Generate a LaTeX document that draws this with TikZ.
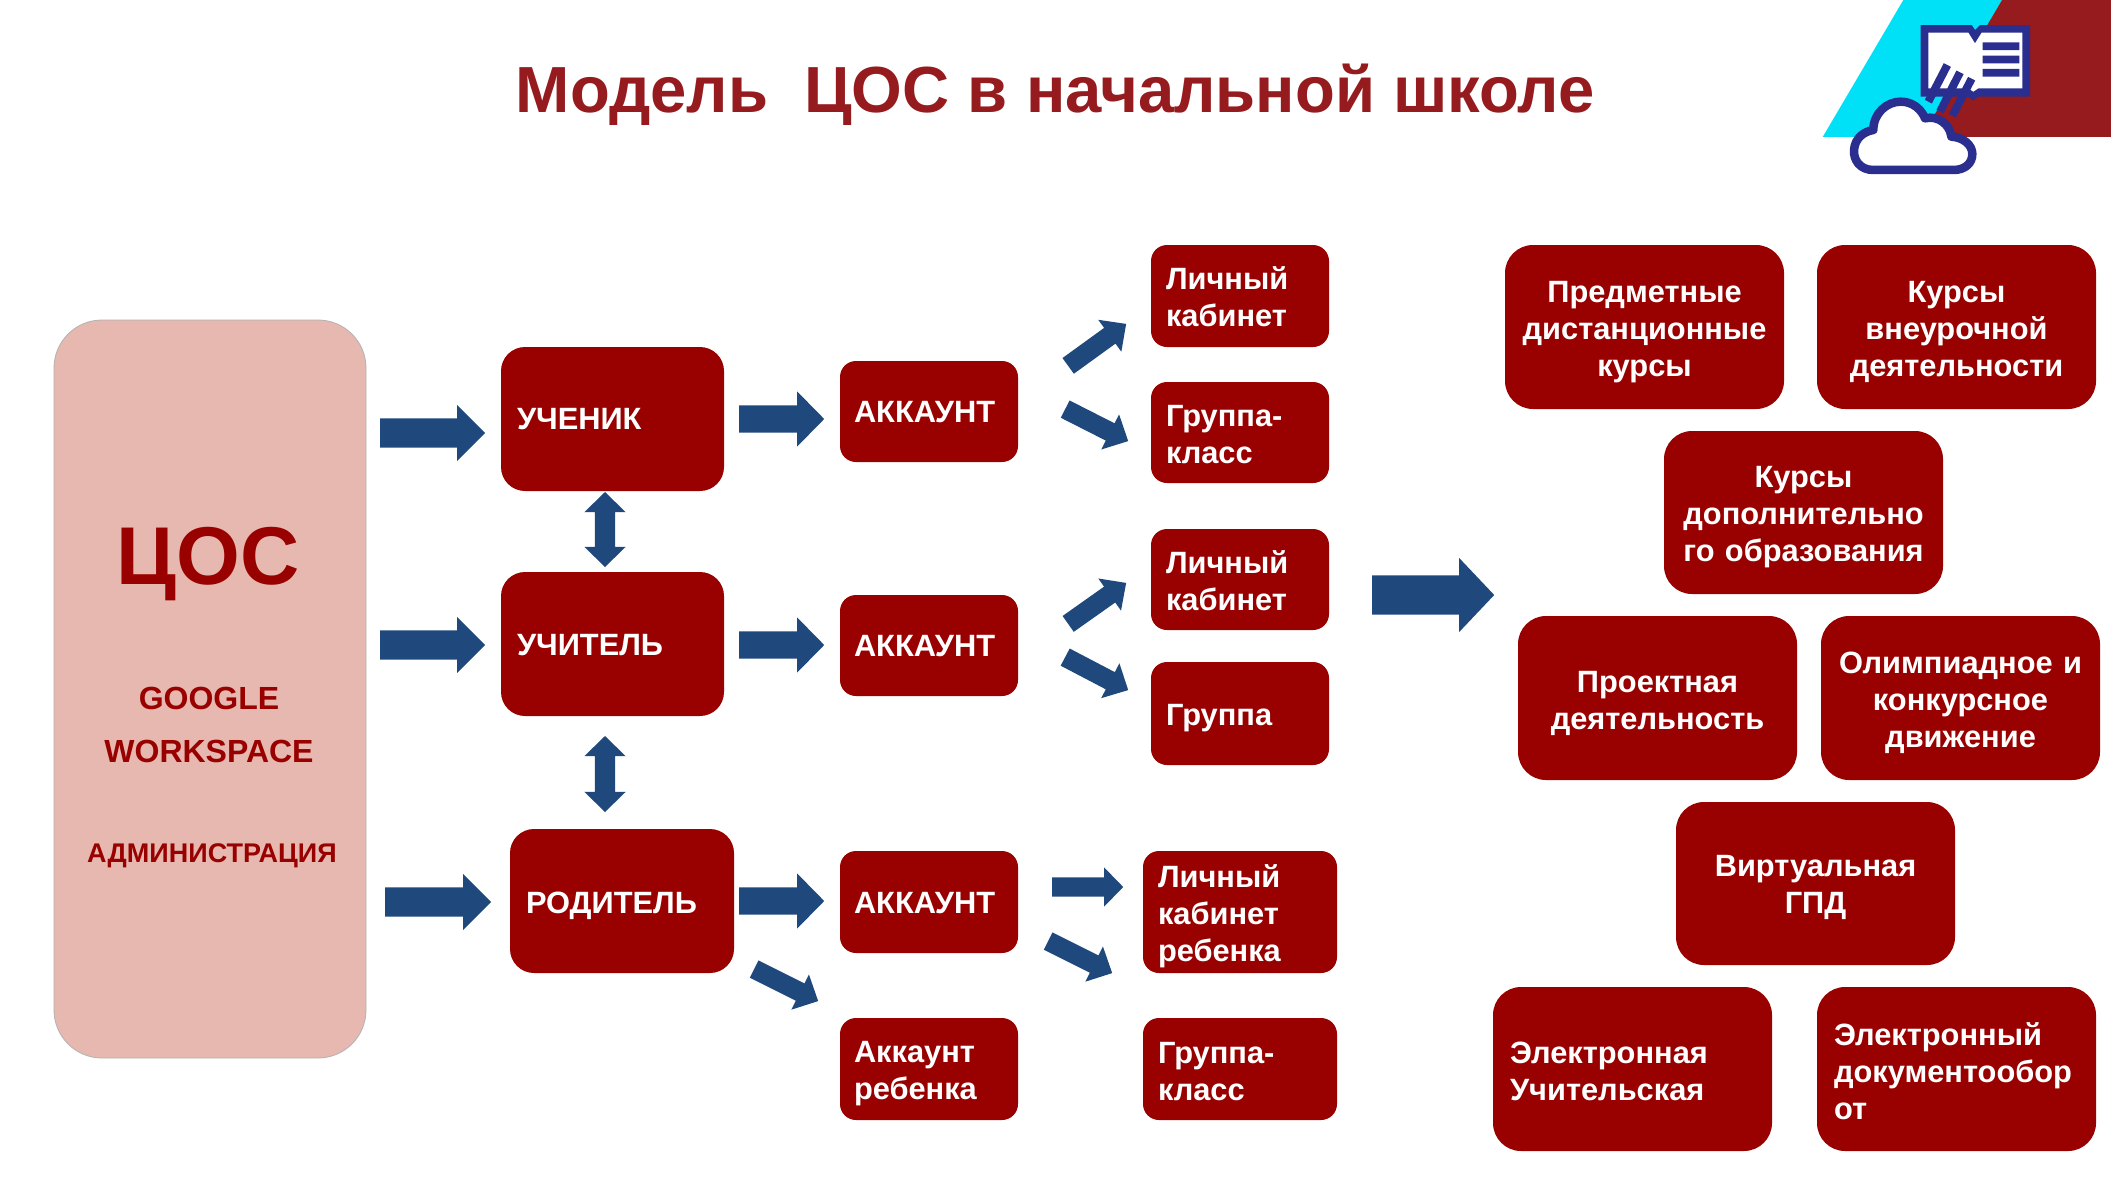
\documentclass[tikz,border=0pt]{standalone}
\usepackage{fontspec}
\setmainfont{Liberation Sans}
\usetikzlibrary{shapes.arrows}
\definecolor{boxred}{HTML}{990000}
\definecolor{titlered}{HTML}{951B1E}
\definecolor{arrowblue}{HTML}{1F497D}
\definecolor{pinkfill}{HTML}{E6B8AF}
\definecolor{logonavy}{HTML}{2A2E8E}
\definecolor{logocyan}{HTML}{00E1F7}
\tikzset{
  boxbase/.style={fill=boxred,draw=none,inner sep=0pt},
  boxtext/.style={text=white,inner sep=0pt,font=\fontsize{30.8}{37}\selectfont\bfseries},
  arrowbase/.style={fill=arrowblue,draw=none,inner xsep=0pt},
}
\def\brad{24}
% name, x1,y1,x2,y2, align, inset, text y offset, text
\newcommand\mybox[9]{%
  \pgfmathsetmacro\bw{#4-#2}\pgfmathsetmacro\bh{#5-#3}%
  \pgfmathsetmacro\bcx{(#2+#4)/2}\pgfmathsetmacro\bcy{(#3+#5)/2}%
  \pgfmathsetmacro\btw{\bw-2*#7}%
  \pgfmathsetmacro\bty{\bcy+#8}%
  \node (#1) [boxbase,rounded corners=\brad pt,minimum width=\bw pt,minimum height=\bh pt] at (\bcx,\bcy) {};%
  \node (#1t) [boxtext,text width=\btw pt,align=#6] at (\bcx,\bty) {#9};%
}
% name, x1,y1,x2,y2, head width, shaft width, head length
\newcommand\myarrow[8]{%
  \pgfmathsetmacro\alen{veclen(#4-#2,#5-#3)}%
  \pgfmathsetmacro\aang{atan2(#3-#5,#4-#2)}%
  \pgfmathsetmacro\aext{(#6-#7)/2}%
  \pgfmathsetmacro\ashaft{#7/2}%
  \pgfmathsetmacro\atip{2*atan((#6/2)/#8)}%
  \node (#1) [arrowbase,single arrow,inner ysep=\ashaft pt,single arrow head extend=\aext pt,single arrow head indent=0pt,
     single arrow tip angle=\atip,minimum height=\alen pt,anchor=tail,rotate=\aang] at (#2,#3) {};%
}
\newcommand\mydouble[8]{%
  \pgfmathsetmacro\acx{(#2+#4)/2}\pgfmathsetmacro\acy{(#3+#5)/2}%
  \pgfmathsetmacro\alen{veclen(#4-#2,#5-#3)}%
  \pgfmathsetmacro\aang{atan2(#3-#5,#4-#2)}%
  \pgfmathsetmacro\aext{(#6-#7)/2}%
  \pgfmathsetmacro\ashaft{#7/2}%
  \pgfmathsetmacro\atip{2*atan((#6/2)/#8)}%
  \node (#1) [arrowbase,anchor=center,double arrow,inner ysep=\ashaft pt,double arrow head extend=\aext pt,double arrow head indent=0pt,
     double arrow tip angle=\atip,minimum height=\alen pt,rotate=\aang] at (\acx,\acy) {};%
}
\begin{document}
\begin{tikzpicture}[x=1pt,y=-1pt]
\useasboundingbox (0,0) rectangle (2111,1187);
\fill[white] (0,0) rectangle (2111,1187);
% title
\node (title) [text=titlered,font=\fontsize{65.2}{70}\selectfont\bfseries,anchor=center] at (1055,95) {Модель\ \ ЦОС в начальной школе};
% logo
\begin{scope}[shift={(1790,0)},x=0.3333pt,y=-0.3333pt]
\fill[logocyan] (98,411) -- (340,0) -- (636,0) -- (394,411) -- cycle;
\fill[titlered] (394,411) -- (636,0) -- (963,0) -- (963,411) -- cycle;
\fill[logonavy] (392,75) -- (545,75) -- (555,90) -- (570,75) -- (720,75) -- (720,290) -- (565,290) -- (550,302) -- (535,290) -- (392,290) -- cycle;
\fill[white] (415,98) -- (535,98) -- (555,130) -- (575,98) -- (697,98) -- (697,265) -- (565,265) -- (550,275) -- (535,265) -- (415,265) -- cycle;
\fill[logonavy] (578,127) rectangle (688,150) (578,167) rectangle (688,190) (578,207) rectangle (688,230);
\draw[logonavy,line width=8pt] (472,195) -- (415,305) (510,217) -- (450,335) (545,236) -- (487,347);
\draw[logonavy,fill=white,line width=8.5pt,line join=round]
  (250,510) .. controls (210,510) and (190,480) .. (192,450)
  .. controls (195,415) and (220,395) .. (250,390)
  .. controls (250,340) and (290,305) .. (332,305)
  .. controls (370,305) and (395,330) .. (405,355)
  .. controls (445,345) and (480,375) .. (484,410)
  .. controls (520,412) and (547,435) .. (547,462)
  .. controls (547,490) and (525,510) .. (490,510) -- cycle;
\end{scope}
% main pink block
\node (cos) [fill=pinkfill,draw=black!30,line width=0.8pt,rounded corners=48pt,minimum width=312pt,minimum height=738pt] at (210,689) {};
\node (cosT) [text=boxred,font=\fontsize{82}{90}\selectfont\bfseries] at (208,564) {ЦОС};
\node (cosG) [text=boxred,font=\fontsize{32}{53}\selectfont\bfseries,align=center] at (209,725) {GOOGLE\\WORKSPACE};
\node (cosA) [text=boxred,font=\fontsize{27}{32}\selectfont\bfseries] at (212,856) {АДМИНИСТРАЦИЯ};
% role boxes
\def\brad{24}
\mybox{r1}{501}{347}{724}{491}{left}{16}{0}{УЧЕНИК}
\mybox{r2}{501}{572}{724}{716}{left}{16}{1}{УЧИТЕЛЬ}
\mybox{r3}{510}{829}{734}{973}{left}{16}{5}{РОДИТЕЛЬ}
% account boxes
\def\brad{16}
\mybox{a1}{840}{361}{1018}{462}{left}{14}{1}{АККАУНТ}
\mybox{a2}{840}{595}{1018}{696}{left}{14}{1}{АККАУНТ}
\mybox{a3}{840}{851}{1018}{953}{left}{14}{1}{АККАУНТ}
\mybox{a4}{840}{1018}{1018}{1120}{left}{14}{5}{Аккаунт\\ребенка}
% third column
\mybox{l1}{1151}{245}{1329}{347}{left}{15}{1}{Личный\\кабинет}
\mybox{g1}{1151}{382}{1329}{483}{left}{15}{2}{Группа-\\класс}
\mybox{l2}{1151}{529}{1329}{630}{left}{15}{1}{Личный\\кабинет}
\mybox{g2}{1151}{662}{1329}{765}{left}{15}{5}{Группа}
\mybox{l3}{1143}{851}{1337}{973}{left}{15}{4}{Личный\\кабинет\\ребенка}
\mybox{g3}{1143}{1018}{1337}{1120}{left}{15}{3}{Группа-\\класс}
% right column
\def\brad{28}
\mybox{c1}{1505}{245}{1784}{409}{center}{8}{5}{Предметные\\дистанционные\\курсы}
\mybox{c2}{1817}{245}{2096}{409}{center}{8}{5}{Курсы\\внеурочной\\деятельности}
\mybox{c3}{1664}{431}{1943}{594}{center}{8}{5}{Курсы\\дополнительно\\го образования}
\mybox{c4}{1518}{616}{1797}{780}{center}{8}{5}{Проектная\\деятельность}
\mybox{c5}{1821}{616}{2100}{780}{center}{8}{5}{Олимпиадное и\\конкурсное\\движение}
\mybox{c6}{1676}{802}{1955}{965}{center}{8}{4}{Виртуальная\\ГПД}
\mybox{c7}{1493}{987}{1772}{1151}{left}{17}{2}{Электронная\\Учительская}
\mybox{c8}{1817}{987}{2096}{1151}{left}{17}{2}{Электронный\\документообор\\от}
% block arrows
\myarrow{ar1}{380}{433}{485}{433}{56}{29}{28}
\myarrow{ar2}{380}{645}{485}{645}{56}{29}{28}
\myarrow{ar3}{385}{902}{491}{902}{56}{29}{28}
\myarrow{ab1}{739}{419}{824}{419}{55}{27}{27}
\myarrow{ab2}{739}{645}{824}{645}{55}{27}{27}
\myarrow{ab3}{739}{901}{824}{901}{55}{27}{27}
\myarrow{ad1}{1068}{366}{1126}{324}{39}{19}{20}
\myarrow{ad2}{1065}{409}{1128}{441}{39}{19}{20}
\myarrow{ad3}{1068}{624}{1126}{583}{39}{19}{20}
\myarrow{ad4}{1065}{657}{1128}{690}{39}{19}{20}
\myarrow{ad5}{1052}{887}{1123}{887}{39}{19}{19}
\myarrow{ad6}{1048}{941}{1112}{973}{39}{19}{20}
\myarrow{ad7}{754}{969}{818}{1001}{39}{19}{20}
\myarrow{big}{1372}{595}{1494}{595}{74}{39}{35}
\mydouble{d1}{605}{492}{605}{567}{41}{20}{20}
\mydouble{d2}{605}{736}{605}{812}{41}{20}{20}
\end{tikzpicture}
\end{document}
